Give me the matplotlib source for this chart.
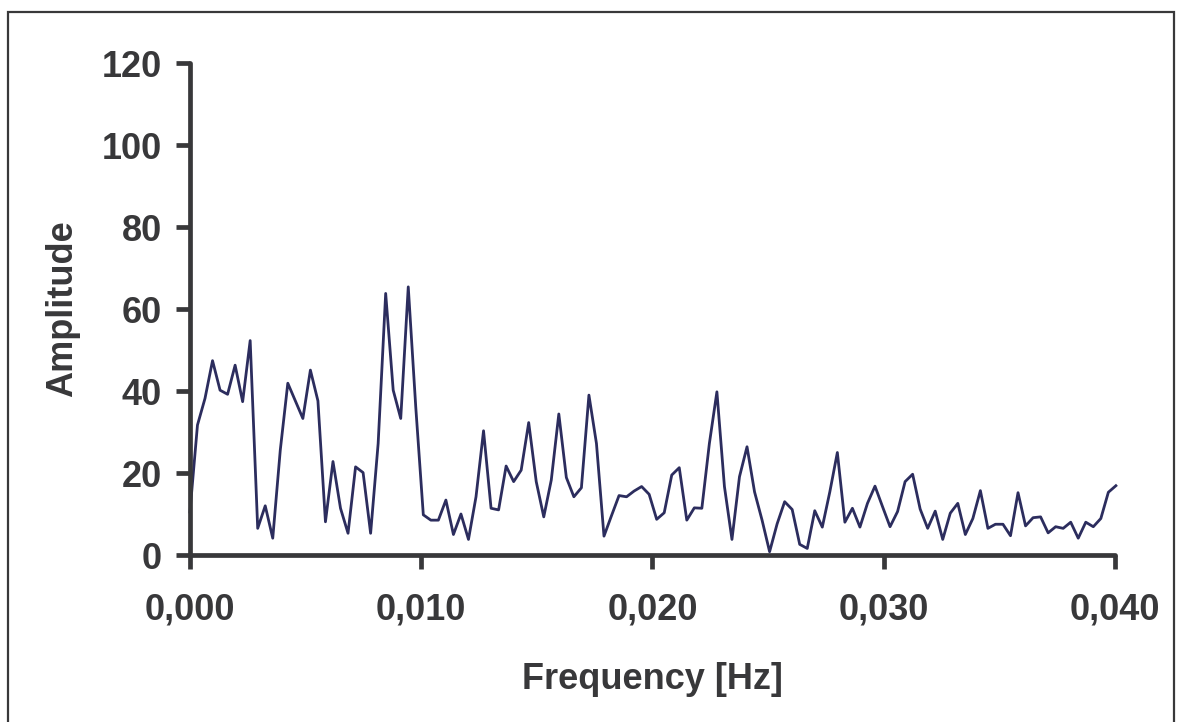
# амплитудный спектр сигнала, частоты до 0,04 Гц
import numpy as np
import matplotlib.pyplot as plt
from matplotlib.patches import Rectangle
from matplotlib.ticker import FuncFormatter

plt.rcParams['font.family'] = ['Liberation Sans', 'DejaVu Sans']

# шаг по частоте 1/3072 Гц
df = 1 / 3072
amplitude = [
    10.5, 31.7, 38.2, 47.4, 40.2, 39.2, 46.3, 37.4, 52.3, 6.5,
    12.0, 4.1, 25.6, 41.9, 37.6, 33.3, 45.1, 37.6, 8.1, 22.8,
    11.4, 5.3, 21.5, 20.1, 5.3, 27.2, 63.8, 40.2, 33.3, 65.4,
    36.0, 9.8, 8.5, 8.5, 13.4, 5.0, 10.0, 3.8, 14.2, 30.3,
    11.4, 11.0, 21.7, 17.9, 20.7, 32.3, 17.9, 9.3, 18.3, 34.4,
    18.9, 14.2, 16.4, 39.0, 27.2, 4.6, 9.6, 14.5, 14.2, 15.6,
    16.7, 14.8, 8.7, 10.3, 19.5, 21.3, 8.5, 11.5, 11.4, 27.2,
    39.8, 16.7, 3.8, 19.1, 26.4, 15.4, 8.5, 0.8, 7.6, 13.0,
    11.1, 2.6, 1.6, 10.8, 6.8, 15.4, 25.0, 8.0, 11.4, 6.8,
    12.6, 16.8, 11.8, 6.9, 10.6, 17.9, 19.7, 11.2, 6.5, 10.7,
    3.8, 10.2, 12.6, 5.0, 8.9, 15.7, 6.5, 7.5, 7.5, 4.7,
    15.2, 7.1, 9.1, 9.3, 5.4, 6.9, 6.5, 8.0, 4.1, 8.0,
    6.9, 8.9, 15.3, 16.9,
]
frequency = np.arange(len(amplitude)) * df

x_ticks = [0.0, 0.01, 0.02, 0.03, 0.04]
y_ticks = [0, 20, 40, 60, 80, 100, 120]

text_color = '#38383a'
line_color = '#2c2d5e'

fig = plt.figure(figsize=(11.82, 7.22), dpi=100)
ax = fig.add_axes([0.1607, 0.2313, 0.7826, 0.6814])

ax.plot(frequency, amplitude, color=line_color, linewidth=2.0, clip_on=False)

ax.set_xlim(0, 0.04)
ax.set_ylim(0, 120)
ax.set_xticks(x_ticks)
ax.set_yticks(y_ticks)
ax.xaxis.set_major_formatter(FuncFormatter(lambda v, p: f"{v:.3f}".replace('.', ',')))

for side in ['top', 'right']:
    ax.spines[side].set_visible(False)
for side in ['left', 'bottom']:
    ax.spines[side].set_linewidth(3.4)
    ax.spines[side].set_color(text_color)
    ax.spines[side].set_capstyle('round')

ax.tick_params(axis='both', direction='out', length=10, width=3.4,
               color=text_color, labelcolor=text_color, labelsize=26)
ax.tick_params(axis='y', pad=10)
ax.tick_params(axis='x', pad=17)
for lab in ax.get_xticklabels() + ax.get_yticklabels():
    lab.set_fontweight('bold')

ax.set_xlabel('Frequency [Hz]', fontsize=26, fontweight='bold', color=text_color, labelpad=25)
ax.set_ylabel('Amplitude', fontsize=26, fontweight='bold', color=text_color, labelpad=16)

# рамка вокруг всего рисунка
fig.patches.append(Rectangle((8 / 1182, -0.05), 1166 / 1182, 1.05 - 12 / 722,
                             transform=fig.transFigure, fill=False,
                             edgecolor=text_color, linewidth=1.6))

fig.savefig('out.png', dpi=100)
